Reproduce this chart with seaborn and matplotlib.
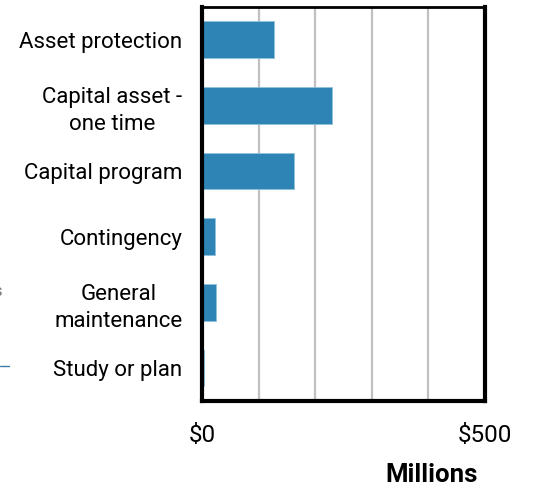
import matplotlib
matplotlib.use("Agg")
import matplotlib.pyplot as plt
from matplotlib.lines import Line2D
import seaborn as sns
import pandas as pd

categories = ["Asset protection", "Capital asset -\none time", "Capital program",
              "Contingency", "General\nmaintenance", "Study or plan"]
values = [127, 230, 162.5, 23.5, 25, 3]
xticks = [0, 500]
xtick_labels = ["$0", "$500"]
grid_positions = [100, 200, 300, 400]
axis_title = "Millions"

sns.set_theme(style="white")
plt.rcParams["font.family"] = ["Roboto", "DejaVu Sans"]

df = pd.DataFrame({"category": categories, "value": values})

fig = plt.figure(figsize=(5.37, 4.87), dpi=100)
ax = fig.add_axes([0.376, 0.177, 0.527, 0.809])

for g in grid_positions:
    ax.axvline(g, color="#c0c0c0", lw=1.6, zorder=0)

sns.barplot(data=df, y="category", x="value", orient="h", color="#2E84B4",
            saturation=1, width=0.56, ax=ax, edgecolor="#8fc0dc", linewidth=0.6, zorder=2)

ax.set_xlim(0, 500)
ax.set_ylim(5.5, -0.5)
ax.set_xticks(xticks)
ax.set_xticklabels(xtick_labels, fontsize=17.5, color="black")
ax.set_ylabel("")
ax.set_xlabel("")
for lbl in ax.get_yticklabels():
    lbl.set_multialignment("center")
    lbl.set_fontsize(16)
    lbl.set_linespacing(1.4)
    lbl.set_color("black")
ax.tick_params(axis="y", length=0, pad=14)
ax.tick_params(axis="x", length=0, pad=17)

for side in ["left", "right", "bottom"]:
    ax.spines[side].set_linewidth(3)
    ax.spines[side].set_color("black")
ax.spines["top"].set_linewidth(2)
ax.spines["top"].set_color("black")
ax.spines["left"].set_zorder(5)

fig.text(0.803, 0.024, axis_title, ha="center", va="center",
         fontsize=18.5, fontweight="bold", color="black")

# cropped remnants at the left edge of the original image
fig.add_artist(Line2D([0, 0.017], [1 - 366 / 487, 1 - 366 / 487],
                      transform=fig.transFigure, color="#3a7ea8", lw=1))
fig.text(-0.012, 1 - 292 / 487, "s", ha="left", va="center", fontsize=12,
         color="#777777")

fig.savefig("out.png", dpi=100)
